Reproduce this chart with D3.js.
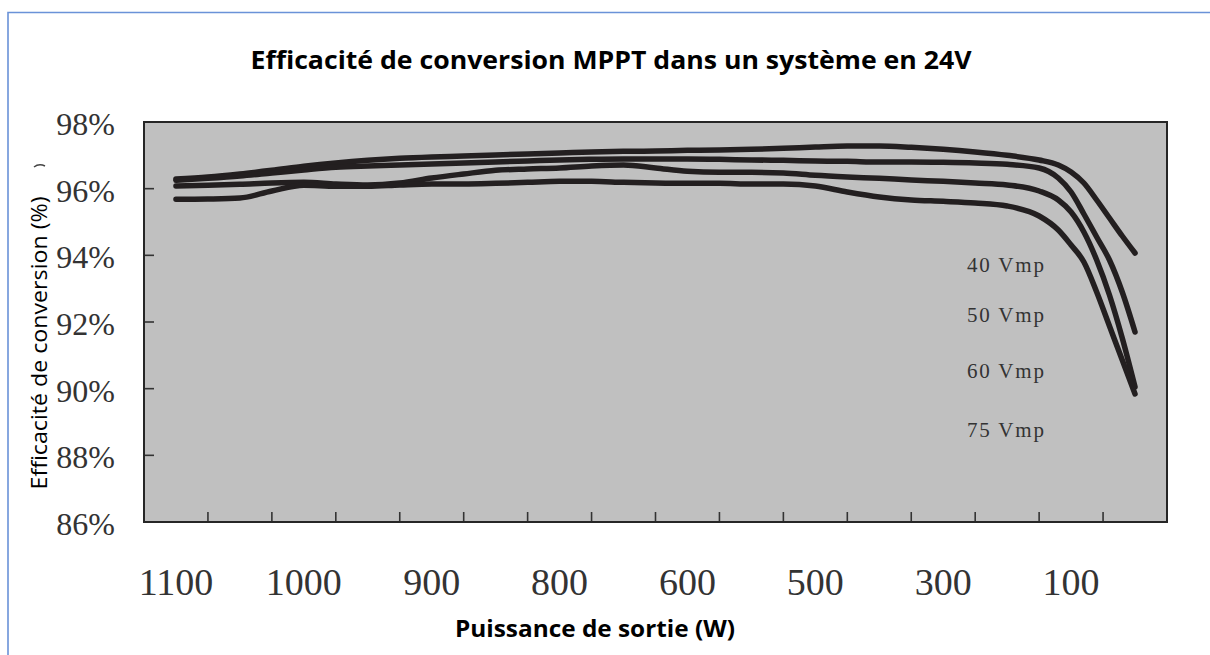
<!DOCTYPE html>
<html lang="fr">
<head>
<meta charset="utf-8">
<title>Efficacité de conversion MPPT</title>
<script src="https://cdn.jsdelivr.net/npm/d3@7"></script>
<style>
  html, body { margin: 0; padding: 0; background: #fff; }
  svg { display: block; }
</style>
</head>
<body>
<div id="chart"></div>
<script>
// x positions, in units of the axis labels (0 = "1100", 7 = "100")
const positions = [
  0, 0.25, 0.5, 0.75, 1, 1.25, 1.5, 1.75, 2, 2.25, 2.5, 2.75, 3, 3.25,
  3.5, 3.75, 4, 4.25, 4.5, 4.75, 5, 5.25, 5.5, 5.75, 6, 6.25, 6.5, 6.75,
  6.9, 7, 7.1, 7.2, 7.3, 7.4, 7.5
];

const powerLabels = ["1100", "1000", "900", "800", "600", "500", "300", "100"];
const yTicks = [98, 96, 94, 92, 90, 88, 86];
const seriesNames = ["40 Vmp", "50 Vmp", "60 Vmp", "75 Vmp"];

// efficiency (%)
const eff40 = [
  96.29, 96.35, 96.44, 96.55, 96.67, 96.77, 96.85, 96.91, 96.95, 96.98, 97.01,
  97.04, 97.07, 97.10, 97.12, 97.13, 97.15, 97.16, 97.18, 97.21, 97.25, 97.28,
  97.28, 97.24, 97.18, 97.10, 97.00, 96.86, 96.71, 96.50, 96.17, 95.66, 95.12,
  94.58, 94.07
];
const eff50 = [
  96.25, 96.31, 96.38, 96.47, 96.56, 96.64, 96.68, 96.71, 96.74, 96.77, 96.80,
  96.83, 96.86, 96.88, 96.89, 96.89, 96.89, 96.88, 96.86, 96.85, 96.83, 96.82,
  96.80, 96.80, 96.79, 96.77, 96.73, 96.62, 96.32, 95.90, 95.24, 94.55, 93.86,
  92.90, 91.70
];
const eff60 = [
  96.08, 96.10, 96.13, 96.17, 96.19, 96.14, 96.11, 96.17, 96.32, 96.44, 96.55,
  96.59, 96.62, 96.68, 96.71, 96.62, 96.52, 96.49, 96.49, 96.47, 96.40, 96.35,
  96.31, 96.26, 96.22, 96.17, 96.11, 95.93, 95.66, 95.30, 94.70, 93.86, 92.81,
  91.52, 90.05
];
const eff75 = [
  95.68, 95.69, 95.72, 95.93, 96.10, 96.07, 96.07, 96.11, 96.14, 96.14, 96.16,
  96.19, 96.22, 96.22, 96.19, 96.17, 96.16, 96.16, 96.14, 96.14, 96.08, 95.90,
  95.75, 95.66, 95.62, 95.57, 95.48, 95.18, 94.76, 94.31, 93.80, 92.90, 91.88,
  90.86, 89.84
];

const series = [eff40, eff50, eff60, eff75];

const width = 1210;
const height = 655;
const plot = { left: 144, right: 1167, top: 122, bottom: 522 };

const svg = d3
  .select("#chart")
  .append("svg")
  .attr("width", width)
  .attr("height", height);

// page border (blue, top and left only)
svg
  .append("path")
  .attr("d", `M8,${height} V12.5 H${width}`)
  .attr("fill", "none")
  .attr("stroke", "#6a92d8")
  .attr("stroke-width", 1.6);

// scales
const x = d3
  .scaleLinear()
  .domain([-0.25, 7.75])
  .range([plot.left, plot.right]);

const y = d3
  .scaleLinear()
  .domain([86, 98])
  .range([plot.bottom, plot.top]);

// title
svg
  .append("text")
  .attr("x", 611)
  .attr("y", 69)
  .attr("text-anchor", "middle")
  .attr("textLength", 721)
  .attr("lengthAdjust", "spacingAndGlyphs")
  .style("font-family", "'Open Sans', sans-serif")
  .style("font-weight", "bold")
  .style("font-size", "25px")
  .style("fill", "#000")
  .text("Efficacité de conversion MPPT dans un système en 24V");

// plot background
svg
  .append("rect")
  .attr("x", plot.left)
  .attr("y", plot.top)
  .attr("width", plot.right - plot.left)
  .attr("height", plot.bottom - plot.top)
  .attr("fill", "#c0c0c0");

// curves
const line = d3
  .line()
  .x((d, i) => x(positions[i]))
  .y((d) => y(d))
  .curve(d3.curveMonotoneX);

svg
  .append("g")
  .selectAll("path")
  .data(series)
  .join("path")
  .attr("d", line)
  .attr("fill", "none")
  .attr("stroke", "#231f20")
  .attr("stroke-width", 5.5)
  .attr("stroke-linecap", "round")
  .attr("stroke-linejoin", "round");

// inner ticks on the left edge
svg
  .append("g")
  .selectAll("line")
  .data(yTicks.slice(1, -1))
  .join("line")
  .attr("x1", plot.left)
  .attr("x2", plot.left + 10)
  .attr("y1", (d) => y(d))
  .attr("y2", (d) => y(d))
  .attr("stroke", "#333")
  .attr("stroke-width", 1.6);

// inner minor ticks along the bottom (16 divisions of the frame)
const frameX = d3.scaleLinear().domain([0, 16]).range([plot.left, plot.right]);
svg
  .append("g")
  .selectAll("line")
  .data(d3.range(1, 16))
  .join("line")
  .attr("x1", (d) => frameX(d))
  .attr("x2", (d) => frameX(d))
  .attr("y1", plot.bottom)
  .attr("y2", plot.bottom - 10)
  .attr("stroke", "#333")
  .attr("stroke-width", 1.6);

// frame
svg
  .append("rect")
  .attr("x", plot.left)
  .attr("y", plot.top)
  .attr("width", plot.right - plot.left)
  .attr("height", plot.bottom - plot.top)
  .attr("fill", "none")
  .attr("stroke", "#262626")
  .attr("stroke-width", 2);

// y tick labels
svg
  .append("g")
  .selectAll("text")
  .data(yTicks)
  .join("text")
  .attr("x", 115)
  .attr("y", (d) => y(d) + 13)
  .attr("text-anchor", "end")
  .style("font-family", "'Liberation Serif', serif")
  .style("font-size", "32px")
  .style("fill", "#333")
  .text((d) => d + "%");

// x tick labels
svg
  .append("g")
  .selectAll("text")
  .data(powerLabels)
  .join("text")
  .attr("x", (d, i) => x(i))
  .attr("y", 595)
  .attr("text-anchor", "middle")
  .style("font-family", "'Liberation Serif', serif")
  .style("font-size", "38px")
  .style("fill", "#333")
  .text((d) => d);

// series labels inside the plot
const labelBaselines = [272, 322, 378, 437];
svg
  .append("g")
  .selectAll("text")
  .data(seriesNames)
  .join("text")
  .attr("x", 967)
  .attr("y", (d, i) => labelBaselines[i])
  .attr("textLength", 77)
  .attr("lengthAdjust", "spacing")
  .style("font-family", "'Liberation Serif', serif")
  .style("font-size", "21px")
  .style("fill", "#333")
  .text((d) => d);

// axis titles
svg
  .append("text")
  .attr("x", 595)
  .attr("y", 637)
  .attr("text-anchor", "middle")
  .attr("textLength", 280)
  .attr("lengthAdjust", "spacingAndGlyphs")
  .style("font-family", "'Open Sans', sans-serif")
  .style("font-weight", "bold")
  .style("font-size", "24px")
  .style("fill", "#000")
  .text("Puissance de sortie (W)");

svg
  .append("text")
  .attr("transform", "translate(47,343) rotate(-90)")
  .attr("text-anchor", "middle")
  .attr("textLength", 293)
  .attr("lengthAdjust", "spacingAndGlyphs")
  .style("font-family", "'Open Sans', sans-serif")
  .style("font-size", "22px")
  .style("fill", "#000")
  .text("Efficacité de conversion (%)");

// small glyph fragment left of the 96% label
svg
  .append("path")
  .attr("d", "M34,167 Q39,163 45,166")
  .attr("fill", "none")
  .attr("stroke", "#444")
  .attr("stroke-width", 1.5);
</script>
</body>
</html>
